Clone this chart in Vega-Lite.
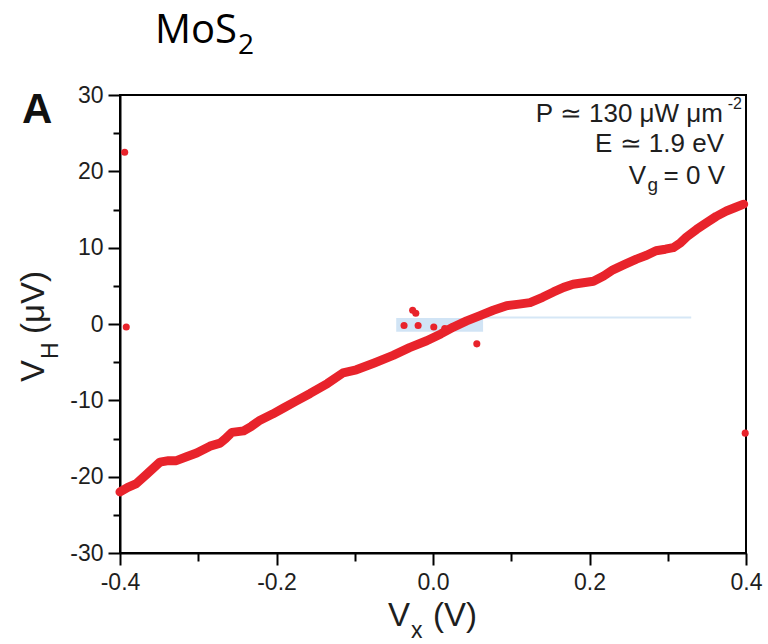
{
  "$schema": "https://vega.github.io/schema/vega-lite/v6.json",
  "width": 626,
  "height": 458,
  "autosize": {"type": "none"},
  "padding": {"left": 120, "top": 95, "right": 22, "bottom": 91},
  "background": "white",
  "config": {"view": {"stroke": "black", "strokeWidth": 2}, "font": "Liberation Sans"},
  "datasets": {
    "curve": [
      {"x": -0.400, "y": -22.0}, {"x": -0.390, "y": -21.4}, {"x": -0.379, "y": -20.9}, {"x": -0.365, "y": -19.6},
      {"x": -0.349, "y": -18.1}, {"x": -0.338, "y": -17.9}, {"x": -0.328, "y": -17.9}, {"x": -0.315, "y": -17.4},
      {"x": -0.302, "y": -16.9}, {"x": -0.285, "y": -16.0}, {"x": -0.272, "y": -15.6}, {"x": -0.265, "y": -15.0},
      {"x": -0.257, "y": -14.2}, {"x": -0.242, "y": -14.0}, {"x": -0.232, "y": -13.4}, {"x": -0.221, "y": -12.6},
      {"x": -0.205, "y": -11.8}, {"x": -0.191, "y": -11.0}, {"x": -0.175, "y": -10.1}, {"x": -0.157, "y": -9.1},
      {"x": -0.135, "y": -7.8}, {"x": -0.115, "y": -6.4}, {"x": -0.098, "y": -6.0}, {"x": -0.075, "y": -5.1},
      {"x": -0.051, "y": -4.1}, {"x": -0.030, "y": -3.1}, {"x": -0.008, "y": -2.2}, {"x": 0.010, "y": -1.3},
      {"x": 0.026, "y": -0.4}, {"x": 0.043, "y": 0.4}, {"x": 0.060, "y": 1.1}, {"x": 0.077, "y": 1.8},
      {"x": 0.094, "y": 2.4}, {"x": 0.110, "y": 2.6}, {"x": 0.124, "y": 2.8}, {"x": 0.140, "y": 3.5},
      {"x": 0.154, "y": 4.2}, {"x": 0.167, "y": 4.8}, {"x": 0.179, "y": 5.2}, {"x": 0.192, "y": 5.4},
      {"x": 0.205, "y": 5.6}, {"x": 0.218, "y": 6.3}, {"x": 0.230, "y": 7.1}, {"x": 0.245, "y": 7.8},
      {"x": 0.260, "y": 8.5}, {"x": 0.273, "y": 9.0}, {"x": 0.285, "y": 9.6}, {"x": 0.297, "y": 9.8},
      {"x": 0.307, "y": 10.0}, {"x": 0.316, "y": 10.6}, {"x": 0.324, "y": 11.4}, {"x": 0.337, "y": 12.4},
      {"x": 0.350, "y": 13.3}, {"x": 0.362, "y": 14.1}, {"x": 0.375, "y": 14.8}, {"x": 0.387, "y": 15.3},
      {"x": 0.397, "y": 15.7}
    ],
    "stray": [
      {"x": -0.394, "y": 22.5}, {"x": -0.392, "y": -0.4}, {"x": -0.026, "y": 1.8}, {"x": -0.022, "y": 1.4},
      {"x": -0.037, "y": -0.2}, {"x": -0.019, "y": -0.2}, {"x": 0.001, "y": -0.4}, {"x": 0.015, "y": -0.6},
      {"x": 0.056, "y": -2.6}, {"x": 0.399, "y": -14.3}
    ]
  },
  "layer": [
    {
      "data": {"values": [{}]},
      "mark": {"type": "rect", "color": "#c9dff3", "opacity": 0.85},
      "encoding": {
        "x": {"datum": -0.047, "type": "quantitative", "scale": {"domain": [-0.4, 0.4], "nice": false, "zero": false}, "axis": null},
        "x2": {"datum": 0.064},
        "y": {"datum": -1.0, "type": "quantitative", "scale": {"domain": [-30, 30], "nice": false, "zero": false}, "axis": null},
        "y2": {"datum": 0.8}
      }
    },
    {
      "data": {"values": [{}]},
      "mark": {"type": "rule", "color": "#d6e7f6", "strokeWidth": 2},
      "encoding": {
        "x": {"datum": 0.064, "type": "quantitative", "scale": {"domain": [-0.4, 0.4], "nice": false, "zero": false}, "axis": null},
        "x2": {"datum": 0.33},
        "y": {"datum": 0.85, "type": "quantitative", "scale": {"domain": [-30, 30], "nice": false, "zero": false}, "axis": null}
      }
    },
    {
      "data": {"name": "curve"},
      "mark": {"type": "line", "color": "#e8232b", "strokeWidth": 9, "strokeCap": "round", "strokeJoin": "round"},
      "encoding": {
        "x": {"field": "x", "type": "quantitative", "scale": {"domain": [-0.4, 0.4], "nice": false, "zero": false},
          "axis": {"values": [-0.4, -0.2, 0, 0.2, 0.4], "labelExpr": "replace(format(datum.value, '.1f'), '−', '-')", "title": null, "grid": false, "orient": "bottom",
            "tickSize": 12, "tickWidth": 2, "tickColor": "black", "domainColor": "black", "domainWidth": 2,
            "labelFontSize": 23, "labelColor": "#1e1e1e", "labelPadding": 6, "labelFont": "Liberation Sans", "labelFlush": false, "labelOverlap": false}},
        "y": {"field": "y", "type": "quantitative", "scale": {"domain": [-30, 30], "nice": false, "zero": false},
          "axis": {"values": [-30, -20, -10, 0, 10, 20, 30], "labelExpr": "replace(format(datum.value, 'd'), '−', '-')", "title": null, "grid": false, "orient": "left",
            "tickSize": 12, "tickWidth": 2, "tickColor": "black", "domainColor": "black", "domainWidth": 2,
            "labelFontSize": 23, "labelColor": "#1e1e1e", "labelPadding": 5, "labelFont": "Liberation Sans", "labelFlush": false, "labelOverlap": false}}
      }
    },
    {
      "data": {"name": "stray"},
      "mark": {"type": "circle", "color": "#e8232b", "size": 50, "opacity": 1},
      "encoding": {
        "x": {"field": "x", "type": "quantitative", "scale": {"domain": [-0.4, 0.4], "nice": false, "zero": false},
          "axis": {"values": [-0.3, -0.1, 0.1, 0.3], "labels": false, "domain": false, "title": null, "grid": false, "orient": "bottom", "tickSize": 8, "tickWidth": 2, "tickColor": "black"}},
        "y": {"field": "y", "type": "quantitative", "scale": {"domain": [-30, 30], "nice": false, "zero": false},
          "axis": {"values": [-25, -15, -5, 5, 15, 25], "labels": false, "domain": false, "title": null, "grid": false, "orient": "left", "tickSize": 7, "tickWidth": 2, "tickColor": "black"}}
      }
    },
    {
      "data": {"values": [{}]},
      "encoding": {
        "x": {"datum": -0.4, "type": "quantitative", "scale": {"domain": [-0.4, 0.4], "nice": false, "zero": false}, "axis": null},
        "y": {"datum": 30, "type": "quantitative", "scale": {"domain": [-30, 30], "nice": false, "zero": false}, "axis": null}
      },
      "layer": [
        {"mark": {"type": "text", "text": "MoS", "font": "Open Sans", "fontSize": 40, "align": "left", "baseline": "alphabetic", "dx": 35, "dy": -52, "color": "black"}},
        {"mark": {"type": "text", "text": "2", "font": "Open Sans", "fontSize": 28, "align": "left", "baseline": "alphabetic", "dx": 118, "dy": -41, "color": "black"}},
        {"mark": {"type": "text", "text": "A", "font": "Liberation Sans", "fontWeight": "bold", "fontSize": 42, "align": "left", "baseline": "alphabetic", "dx": -98, "dy": 28, "color": "#111"}}
      ]
    },
    {
      "data": {"values": [{}]},
      "encoding": {
        "x": {"datum": 0.4, "type": "quantitative", "scale": {"domain": [-0.4, 0.4], "nice": false, "zero": false}, "axis": null},
        "y": {"datum": 30, "type": "quantitative", "scale": {"domain": [-30, 30], "nice": false, "zero": false}, "axis": null}
      },
      "layer": [
        {"mark": {"type": "text", "text": "P ≃ 130 μW μm", "fontSize": 26, "align": "right", "baseline": "alphabetic", "dx": -23, "dy": 27, "color": "#1e1e1e"}},
        {"mark": {"type": "text", "text": "-2", "fontSize": 16, "align": "right", "baseline": "alphabetic", "dx": -4, "dy": 14, "color": "#1e1e1e"}},
        {"mark": {"type": "text", "text": "E ≃ 1.9 eV", "fontSize": 26, "align": "right", "baseline": "alphabetic", "dx": -22, "dy": 57, "color": "#1e1e1e"}},
        {"mark": {"type": "text", "text": "= 0 V", "fontSize": 26, "align": "right", "baseline": "alphabetic", "dx": -21, "dy": 89, "color": "#1e1e1e"}},
        {"mark": {"type": "text", "text": "g", "fontSize": 19, "align": "right", "baseline": "alphabetic", "dx": -88, "dy": 96, "color": "#1e1e1e"}},
        {"mark": {"type": "text", "text": "V", "fontSize": 26, "align": "right", "baseline": "alphabetic", "dx": -100, "dy": 89, "color": "#1e1e1e"}}
      ]
    },
    {
      "data": {"values": [{}]},
      "encoding": {
        "x": {"datum": -0.4, "type": "quantitative", "scale": {"domain": [-0.4, 0.4], "nice": false, "zero": false}, "axis": null},
        "y": {"datum": 0, "type": "quantitative", "scale": {"domain": [-30, 30], "nice": false, "zero": false}, "axis": null}
      },
      "layer": [
        {"mark": {"type": "text", "text": "V", "fontSize": 33, "angle": 270, "align": "left", "baseline": "alphabetic", "dx": -58, "dy": -76, "color": "#1e1e1e"}},
        {"mark": {"type": "text", "text": "H", "fontSize": 23, "angle": 270, "align": "left", "baseline": "alphabetic", "dx": -35, "dy": -62, "color": "#1e1e1e"}},
        {"mark": {"type": "text", "text": "(μV)", "fontSize": 33, "angle": 270, "align": "left", "baseline": "alphabetic", "dx": -10, "dy": -76, "color": "#1e1e1e"}}
      ]
    },
    {
      "data": {"values": [{}]},
      "encoding": {
        "x": {"datum": 0, "type": "quantitative", "scale": {"domain": [-0.4, 0.4], "nice": false, "zero": false}, "axis": null},
        "y": {"datum": -30, "type": "quantitative", "scale": {"domain": [-30, 30], "nice": false, "zero": false}, "axis": null}
      },
      "layer": [
        {"mark": {"type": "text", "text": "V", "fontSize": 33, "align": "left", "baseline": "alphabetic", "dx": -45, "dy": 73, "color": "#1e1e1e"}},
        {"mark": {"type": "text", "text": "x", "fontSize": 23, "align": "left", "baseline": "alphabetic", "dx": -22, "dy": 85, "color": "#1e1e1e"}},
        {"mark": {"type": "text", "text": "(V)", "fontSize": 33, "align": "left", "baseline": "alphabetic", "dx": 0, "dy": 73, "color": "#1e1e1e"}}
      ]
    }
  ],
  "resolve": {"axis": {"x": "independent", "y": "independent"}}
}
